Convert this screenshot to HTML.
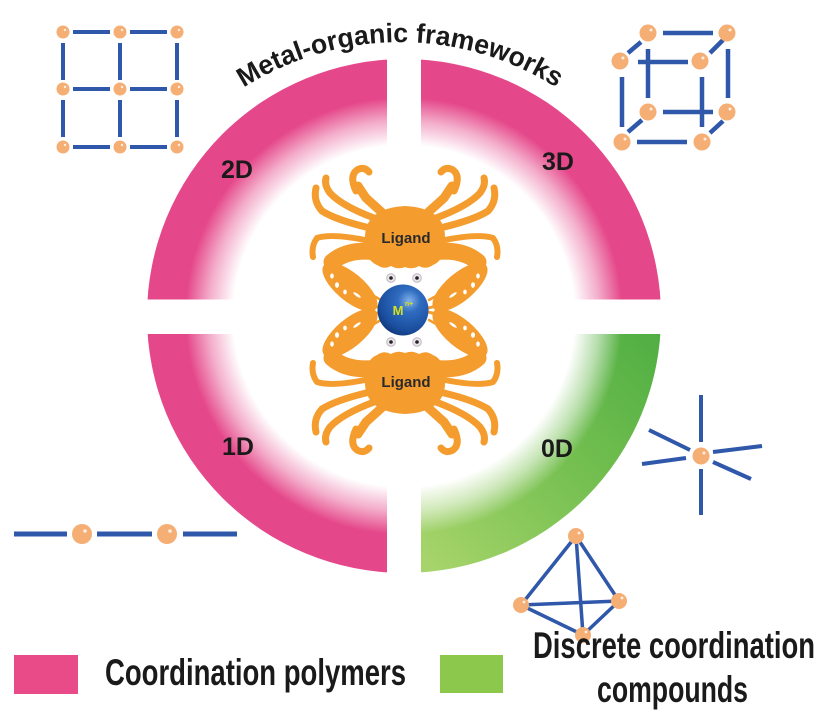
<!DOCTYPE html>
<html><head><meta charset="utf-8"><style>
html,body{margin:0;padding:0;background:#fff;}
svg{display:block;}
</style></head><body>
<svg width="836" height="718" viewBox="0 0 836 718" xmlns="http://www.w3.org/2000/svg">
<defs>
  <radialGradient id="fade" cx="404" cy="316" r="257" gradientUnits="userSpaceOnUse">
    <stop offset="0" stop-color="#fff" stop-opacity="1"/>
    <stop offset="0.665" stop-color="#fff" stop-opacity="1"/>
    <stop offset="0.76" stop-color="#fff" stop-opacity="0.55"/>
    <stop offset="0.85" stop-color="#fff" stop-opacity="0"/>
    <stop offset="1" stop-color="#fff" stop-opacity="0"/>
  </radialGradient>
  <linearGradient id="grn" x1="430" y1="565" x2="660" y2="330" gradientUnits="userSpaceOnUse">
    <stop offset="0" stop-color="#a6d46a"/>
    <stop offset="0.5" stop-color="#76c051"/>
    <stop offset="1" stop-color="#4fae42"/>
  </linearGradient>
  <radialGradient id="ball" cx="0.62" cy="0.32" r="0.75">
    <stop offset="0" stop-color="#7fb0ea"/>
    <stop offset="0.3" stop-color="#2f6cc0"/>
    <stop offset="0.75" stop-color="#1b4f9f"/>
    <stop offset="1" stop-color="#0e3577"/>
  </radialGradient>
  <path id="arc" d="M 221 103.7 A 291 291 0 0 1 579 103.7"/>
  <g id="crabHalf" fill="#f49d2e" stroke="#f49d2e" stroke-linecap="round" stroke-linejoin="round">
    <path d="M386,216 L366,198 L358,186" fill="none" stroke-width="9"/>
    <path d="M356,191 Q349,176 357,170 Q364,166 369,172" fill="none" stroke-width="7"/>
    <path d="M374,218 Q342,206 330,193 Q324,185 326,178" fill="none" stroke-width="7"/>
    <path d="M370,228 Q336,220 322,211 Q313,201 316,188" fill="none" stroke-width="7"/>
    <path d="M370,241 Q332,233 317,238 Q311,246 313,257" fill="none" stroke-width="6"/>
    <path d="M378,252 Q348,248 332,262" fill="none" stroke-width="17"/>
    <ellipse cx="350" cy="287" rx="34" ry="14" transform="rotate(40 350 287)" stroke="none"/>
    <path d="M360,299 Q371,306 382,308" fill="none" stroke-width="3"/>
    <path d="M365,291 Q374,296 381,300" fill="none" stroke-width="2.5"/>
    <g fill="#fff" stroke="none">
      <ellipse cx="332" cy="276" rx="1.8" ry="2.6"/>
      <ellipse cx="337" cy="285" rx="2" ry="2.8"/>
      <ellipse cx="345" cy="292" rx="1.8" ry="2.4"/>
      <ellipse cx="357" cy="295" rx="4.5" ry="1.3" transform="rotate(35 357 295)"/>
    </g>
  </g>
  <g id="crab">
    <use href="#crabHalf"/>
    <use href="#crabHalf" transform="translate(810,0) scale(-1,1)"/>
    <path d="M365,236 Q366,208 405,206 Q444,208 445,236 Q446,260 433,265 Q426,270 419,266 Q412,270 405,267 Q398,270 391,266 Q384,270 377,265 Q364,260 365,236 Z" fill="#f49d2e"/>
    <circle cx="391" cy="278" r="4.3" fill="#e9e3ea" stroke="#b9aebb" stroke-width="0.8"/>
    <circle cx="391" cy="278" r="1.8" fill="#222"/>
    <circle cx="417" cy="278" r="4.3" fill="#e9e3ea" stroke="#b9aebb" stroke-width="0.8"/>
    <circle cx="417" cy="278" r="1.8" fill="#222"/>
  </g>
</defs>

<path d="M404,316 L147,316 A257,257 0 0 1 404,59 Z" fill="#e5488a"/>
<path d="M404,316 L404,59 A257,257 0 0 1 661,316 Z" fill="#e5488a"/>
<path d="M404,316 L404,573 A257,257 0 0 1 147,316 Z" fill="#e5488a"/>
<path d="M404,316 L661,316 A257,257 0 0 1 404,573 Z" fill="url(#grn)"/>
<circle cx="404" cy="316" r="258" fill="url(#fade)"/>
<rect x="387" y="50" width="34" height="530" fill="#fff"/>
<rect x="140" y="299.5" width="530" height="34.5" fill="#fff"/>

<text font-family="Liberation Sans, Arial, sans-serif" font-weight="bold" font-size="27" fill="#1a1a1a">
  <textPath href="#arc" startOffset="50%" text-anchor="middle" textLength="330" lengthAdjust="spacingAndGlyphs">Metal-organic frameworks</textPath>
</text>

<g font-family="Liberation Sans, Arial, sans-serif" font-weight="bold" font-size="25" fill="#1a1a1a" text-anchor="middle">
  <text x="237" y="178">2D</text>
  <text x="558" y="170">3D</text>
  <text x="238" y="455">1D</text>
  <text x="557" y="457">0D</text>
</g>

<use href="#crab"/>
<use href="#crab" transform="translate(0,620) scale(1,-1)"/>
<g font-family="Liberation Sans, Arial, sans-serif" font-weight="bold" font-size="15" fill="#2a2a2a" text-anchor="middle">
  <text x="406" y="243">Ligand</text>
  <text x="406" y="387">Ligand</text>
</g>

<circle cx="403" cy="310" r="25.5" fill="url(#ball)"/>
<text x="398" y="315" font-family="Liberation Sans, Arial, sans-serif" font-weight="bold" font-size="13" fill="#d6e21c" text-anchor="middle">M</text>
<text x="409" y="306" font-family="Liberation Sans, Arial, sans-serif" font-weight="bold" font-size="7" fill="#d6e21c" text-anchor="middle">n+</text>

<g stroke="#2f58aa" stroke-width="4" stroke-linecap="butt">
  <line x1="73" y1="32" x2="110" y2="32"/><line x1="130" y1="32" x2="167" y2="32"/>
  <line x1="73" y1="89" x2="110" y2="89"/><line x1="130" y1="89" x2="167" y2="89"/>
  <line x1="73" y1="147" x2="110" y2="147"/><line x1="130" y1="147" x2="167" y2="147"/>
  <line x1="63" y1="43" x2="63" y2="80"/><line x1="63" y1="100" x2="63" y2="137"/>
  <line x1="120" y1="43" x2="120" y2="80"/><line x1="120" y1="100" x2="120" y2="137"/>
  <line x1="177" y1="43" x2="177" y2="80"/><line x1="177" y1="100" x2="177" y2="137"/>
</g>
<g fill="#f5ae74">
  <circle cx="63" cy="32" r="6.5"/><circle cx="120" cy="32" r="6.5"/><circle cx="177" cy="32" r="6.5"/>
  <circle cx="63" cy="89" r="6.5"/><circle cx="120" cy="89" r="6.5"/><circle cx="177" cy="89" r="6.5"/>
  <circle cx="63" cy="147" r="6.5"/><circle cx="120" cy="147" r="6.5"/><circle cx="177" cy="147" r="6.5"/>
</g>
<g fill="#fff" opacity="0.8">
  <circle cx="65" cy="30" r="1.2"/><circle cx="122" cy="30" r="1.2"/><circle cx="179" cy="30" r="1.2"/>
  <circle cx="65" cy="87" r="1.2"/><circle cx="122" cy="87" r="1.2"/><circle cx="179" cy="87" r="1.2"/>
  <circle cx="65" cy="145" r="1.2"/><circle cx="122" cy="145" r="1.2"/><circle cx="179" cy="145" r="1.2"/>
</g>

<g stroke="#2f58aa" stroke-width="4.5" stroke-linecap="butt">
  <line x1="663" y1="33" x2="713" y2="33"/>
  <line x1="638" y1="62" x2="688" y2="62"/>
  <line x1="622" y1="77" x2="622" y2="127"/>
  <line x1="648" y1="49" x2="648" y2="98"/>
  <line x1="702" y1="77" x2="702" y2="127"/>
  <line x1="728" y1="49" x2="728" y2="98"/>
  <line x1="663" y1="112" x2="713" y2="112"/>
  <line x1="637" y1="142" x2="687" y2="142"/>
  <line x1="628" y1="53" x2="641" y2="42"/>
  <line x1="710" y1="53" x2="723" y2="40"/>
  <line x1="628" y1="132" x2="642" y2="120"/>
  <line x1="710" y1="133" x2="723" y2="121"/>
</g>
<g fill="#f5ae74">
  <circle cx="648" cy="33" r="8.5"/><circle cx="727" cy="33" r="8.5"/>
  <circle cx="620" cy="61" r="8.5"/><circle cx="700" cy="61" r="8.5"/>
  <circle cx="648" cy="112" r="8.5"/><circle cx="727" cy="112" r="8.5"/>
  <circle cx="622" cy="142" r="8.5"/><circle cx="702" cy="142" r="8.5"/>
</g>
<g fill="#fff" opacity="0.8">
  <circle cx="651" cy="30" r="1.5"/><circle cx="730" cy="30" r="1.5"/>
  <circle cx="623" cy="58" r="1.5"/><circle cx="703" cy="58" r="1.5"/>
  <circle cx="651" cy="109" r="1.5"/><circle cx="730" cy="109" r="1.5"/>
  <circle cx="625" cy="139" r="1.5"/><circle cx="705" cy="139" r="1.5"/>
</g>

<g stroke="#2f58aa" stroke-width="5">
  <line x1="14" y1="534" x2="67" y2="534"/>
  <line x1="97" y1="534" x2="152" y2="534"/>
  <line x1="183" y1="534" x2="237" y2="534"/>
</g>
<circle cx="82" cy="534" r="10" fill="#f5ae74"/>
<circle cx="167" cy="534" r="10" fill="#f5ae74"/>
<circle cx="85" cy="531" r="1.8" fill="#fff" opacity="0.8"/>
<circle cx="170" cy="531" r="1.8" fill="#fff" opacity="0.8"/>

<g stroke="#2f58aa" stroke-width="4">
  <line x1="701" y1="395" x2="701" y2="442"/>
  <line x1="701" y1="469" x2="701" y2="515"/>
  <line x1="642" y1="464" x2="686" y2="458"/>
  <line x1="713" y1="452" x2="762" y2="446"/>
  <line x1="649" y1="430" x2="690" y2="450"/>
  <line x1="713" y1="462" x2="751" y2="479"/>
</g>
<circle cx="701" cy="456" r="8.5" fill="#f5ae74"/>
<circle cx="704" cy="453" r="1.5" fill="#fff" opacity="0.8"/>

<g stroke="#2f58aa" stroke-width="3.5">
  <line x1="576" y1="536" x2="521" y2="605"/>
  <line x1="576" y1="536" x2="619" y2="601"/>
  <line x1="576" y1="536" x2="583" y2="635"/>
  <line x1="521" y1="605" x2="619" y2="601"/>
  <line x1="521" y1="605" x2="583" y2="635"/>
  <line x1="619" y1="601" x2="583" y2="635"/>
</g>
<g fill="#f5ae74">
  <circle cx="576" cy="536" r="8"/><circle cx="521" cy="605" r="8"/>
  <circle cx="619" cy="601" r="8"/><circle cx="583" cy="635" r="8"/>
</g>
<g fill="#fff" opacity="0.8">
  <circle cx="579" cy="533" r="1.4"/><circle cx="524" cy="602" r="1.4"/>
  <circle cx="622" cy="598" r="1.4"/><circle cx="586" cy="632" r="1.4"/>
</g>

<rect x="14" y="655" width="64" height="39" fill="#e84b87"/>
<rect x="440" y="655" width="63" height="38" fill="#8cc84b"/>
<g font-family="Liberation Sans, Arial, sans-serif" font-weight="bold" font-size="37" fill="#1a1a1a">
  <text x="105" y="685" textLength="301" lengthAdjust="spacingAndGlyphs">Coordination polymers</text>
  <text x="533" y="658" textLength="282" lengthAdjust="spacingAndGlyphs">Discrete coordination</text>
  <text x="597" y="702" textLength="151" lengthAdjust="spacingAndGlyphs">compounds</text>
</g>
</svg>
</body></html>
